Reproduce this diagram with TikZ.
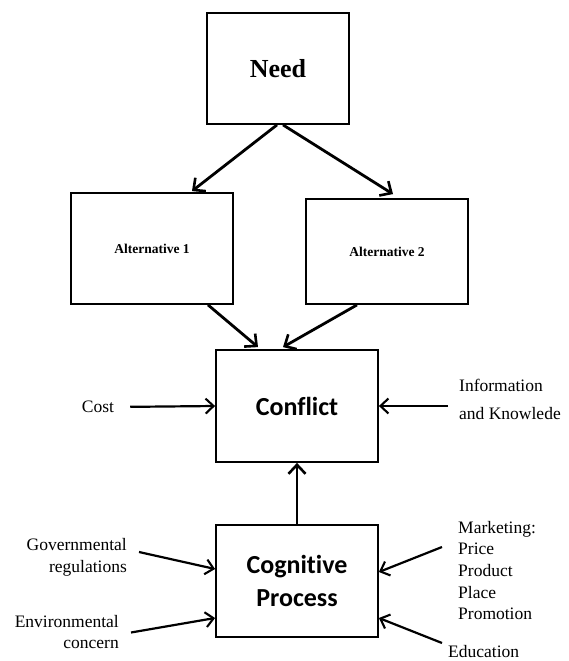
\documentclass[tikz,border=0pt]{standalone}
\usepackage{fontspec}
\setmainfont{Liberation Serif}
\newfontfamily\calfont[Ligatures=NoCommon]{Carlito}
\usetikzlibrary{arrows.meta}

\begin{document}
\begin{tikzpicture}[x=1pt,y=-1pt,
	box/.style={draw, line width=1.8pt, inner sep=0pt, minimum width=162pt, minimum height=111pt},
	flow/.style={-{Straight Barb[length=9pt,width=17pt,line width=2.6pt]}, line width=2.8pt},
	side/.style={-{Straight Barb[length=8pt,width=15pt,line width=2.1pt]}, line width=2.2pt},
	lbl/.style={inner sep=0pt, font=\fontsize{17.5}{22}\selectfont}]
	\useasboundingbox (0,0) rectangle (569,661);
	\node [box, minimum width=142pt, font=\fontsize{26}{30}\selectfont\bfseries] (need) at (278,68.5) {Need};
	\node [box, font=\fontsize{13.5}{16}\selectfont\bfseries] (alt1) at (152,248.5) {Alternative 1};
	\node [box, minimum height=105pt, font=\fontsize{13.5}{16}\selectfont\bfseries] (alt2) at (387,251.5) {Alternative 2};
	\node [box, minimum height=112pt, font=\calfont\fontsize{26}{30}\selectfont\bfseries] (con) at (297,406) {Conflict};
	\node [box, minimum height=112pt, align=center, font=\calfont\fontsize{26}{33}\selectfont\bfseries] (cog) at (297,581) {Cognitive\\Process};
	\node [lbl] (cost) at (98,407) {Cost};
	\node [lbl, anchor=west, align=left, font=\fontsize{17.5}{28}\selectfont] (info) at (459,399) {Information\\and Knowlede};
	\node [lbl, anchor=east, align=right] (gov) at (127,557) {Governmental\\regulations};
	\node [lbl, anchor=east, align=right, font=\fontsize{17.5}{21}\selectfont] (env) at (119,632.5) {Environmental\\concern};
	\node [lbl, anchor=west, align=left, font=\fontsize{17.5}{21.7}\selectfont] (mkt) at (458,570.5) {Marketing:\\Price\\Product\\Place\\Promotion};
	\node [lbl, anchor=west] (edu) at (448,651.5) {Education};
	\draw [flow] ([xshift=-1pt]need.south) -- ([xshift=40pt,yshift=1pt]alt1.north);
	\draw [flow] ([xshift=5pt]need.south) -- ([xshift=6pt,yshift=4pt]alt2.north);
	\draw [flow] ([xshift=56pt]alt1.south) -- ([xshift=-39pt,yshift=2pt]con.north);
	\draw [flow] ([xshift=-30pt]alt2.south) -- ([xshift=-14pt,yshift=2pt]con.north);
	\draw [flow] (cog.north) -- (con.south);
	\draw [side, shorten <=16pt] (cost.east) -- (con.west);
	\draw [side] ([xshift=-11pt]info.west |- con.east) -- (con.east);
	\draw [side] ([xshift=12pt,yshift=5pt]gov.east) -- ([yshift=12pt]cog.west);
	\draw [side] ([xshift=12pt]env.east) -- ([yshift=-37pt]cog.west);
	\draw [side] ([xshift=-16pt,yshift=23.5pt]mkt.west) -- ([yshift=9pt]cog.east);
	\draw [side] ([xshift=-6pt,yshift=8.5pt]edu.west) -- ([yshift=-37pt]cog.east);
\end{tikzpicture}
\end{document}
